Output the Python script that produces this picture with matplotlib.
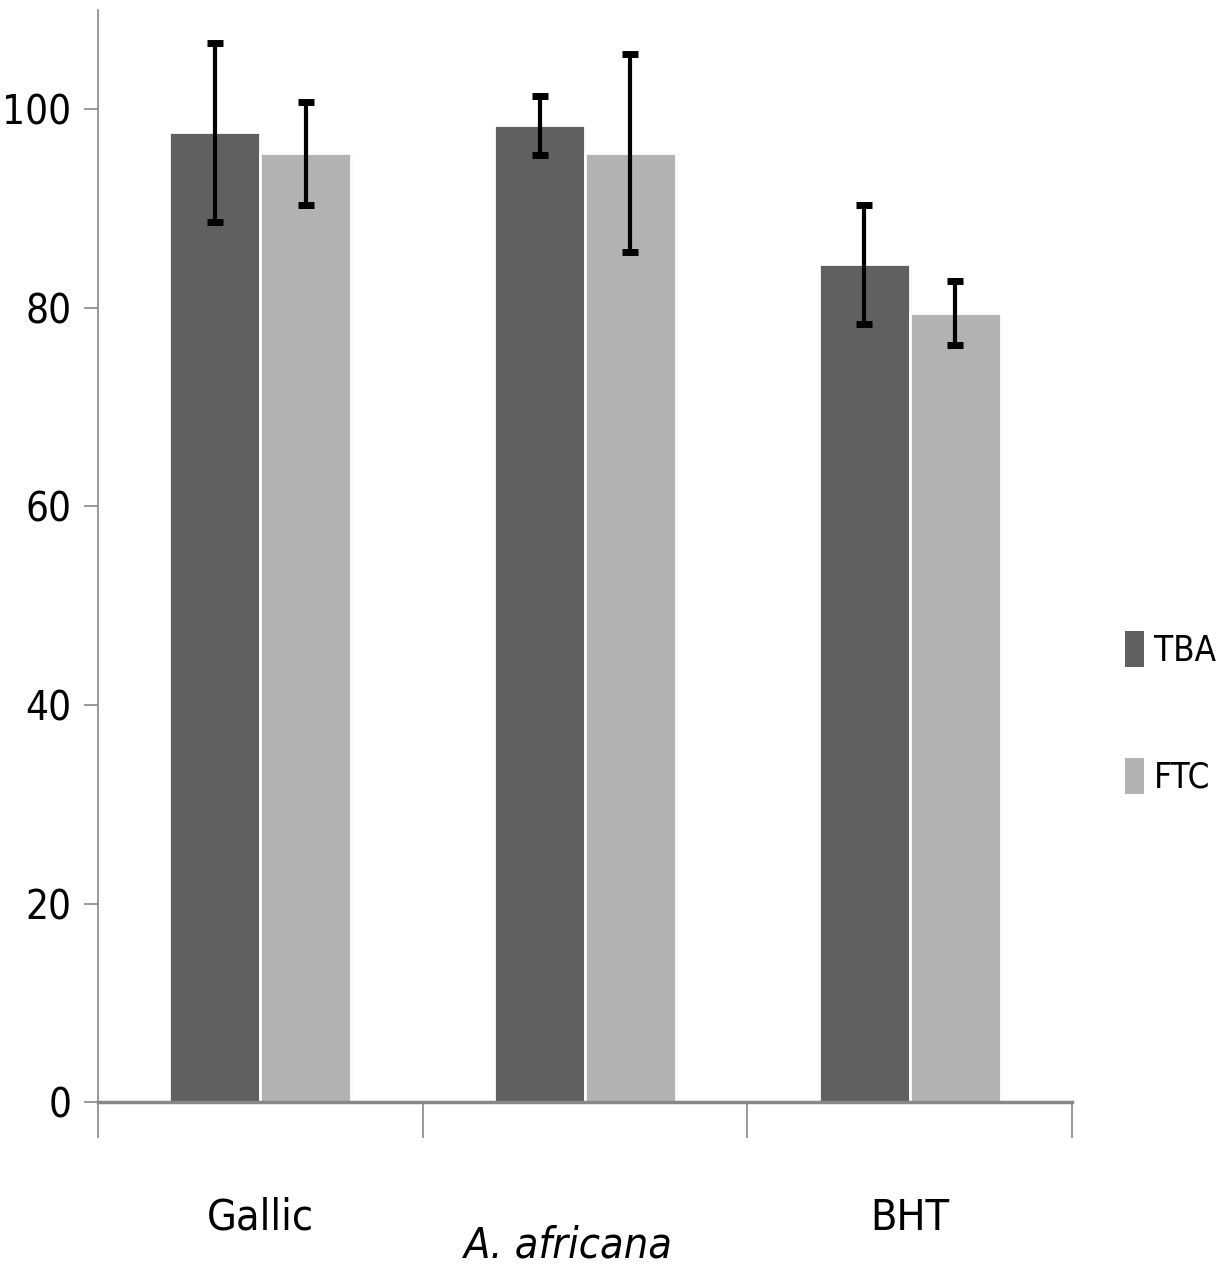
import matplotlib
matplotlib.use("Agg")
import matplotlib.pyplot as plt
import matplotlib.patheffects as pe
from matplotlib.patches import Patch
import numpy as np

categories = ["Gallic", "A. africana", "BHT"]
series = ["TBA", "FTC"]
tba_values = [97.7, 98.4, 84.4]
tba_errors = [9.0, 3.0, 6.0]
ftc_values = [95.6, 95.6, 79.5]
ftc_errors = [5.2, 10.0, 3.2]
yticks = [0, 20, 40, 60, 80, 100]

plt.rcParams["font.family"] = ["DejaVu Sans"]
plt.rcParams["font.stretch"] = "condensed"

fig = plt.figure(figsize=(12.2, 12.78), dpi=100)
ax = fig.add_axes([0.0803, 0.1377, 0.7984, 0.8543])

x = np.arange(len(categories))
w = 0.28
c_tba = "#606060"
c_ftc = "#b2b2b2"
shadow = [pe.withSimplePatchShadow(offset=(1.5, -2.5), shadow_rgbFace="#999999", alpha=0.4)]
ax.bar(x - w / 2, tba_values, width=w, color=c_tba, edgecolor="white", linewidth=2, zorder=2,
       path_effects=shadow)
ax.bar(x + w / 2, ftc_values, width=w, color=c_ftc, edgecolor="white", linewidth=2, zorder=2,
       path_effects=shadow)
ax.errorbar(x - w / 2, tba_values, yerr=tba_errors, fmt="none", ecolor="black", elinewidth=3, capsize=6, capthick=5, zorder=3)
ax.errorbar(x + w / 2, ftc_values, yerr=ftc_errors, fmt="none", ecolor="black", elinewidth=3, capsize=6, capthick=5, zorder=3)

ax.set_xlim(-0.5, len(categories) - 0.5)
ax.set_ylim(0, 110)
ax.set_yticks(yticks)
ax.set_yticklabels([str(v) for v in yticks], fontsize=29)
ax.tick_params(axis="y", length=10, width=1.2, color="#888888", pad=9)
ax.set_xticks(np.arange(len(categories) + 1) - 0.5)
ax.set_xticklabels([])
ax.tick_params(axis="x", length=26, width=1.2, color="#888888")
for s in ["top", "right"]:
    ax.spines[s].set_visible(False)
ax.spines["left"].set_color("#888888")
ax.spines["left"].set_linewidth(1.2)
ax.spines["bottom"].set_color("#888888")
ax.spines["bottom"].set_linewidth(2.5)
ax.spines["bottom"].set_zorder(4)

label_y = [-0.106, -0.131, -0.106]
label_style = ["normal", "italic", "normal"]
label_x = [0.0, 0.947, 2.0]
for lx, ly, lab, st in zip(label_x, label_y, categories, label_style):
    ax.text(lx, ly, lab, transform=ax.get_xaxis_transform(), ha="center", va="center",
            fontsize=31, style=st)

handles = [Patch(facecolor=c_tba, edgecolor="none"), Patch(facecolor=c_ftc, edgecolor="none")]
leg = fig.legend(handles, series, loc="center left", bbox_to_anchor=(0.922, 0.442), frameon=False,
                 fontsize=25, handlelength=0.55, handleheight=1.2, handletextpad=0.3,
                 labelspacing=2.6, borderaxespad=0, borderpad=0)

fig.savefig("out.png", dpi=100)
